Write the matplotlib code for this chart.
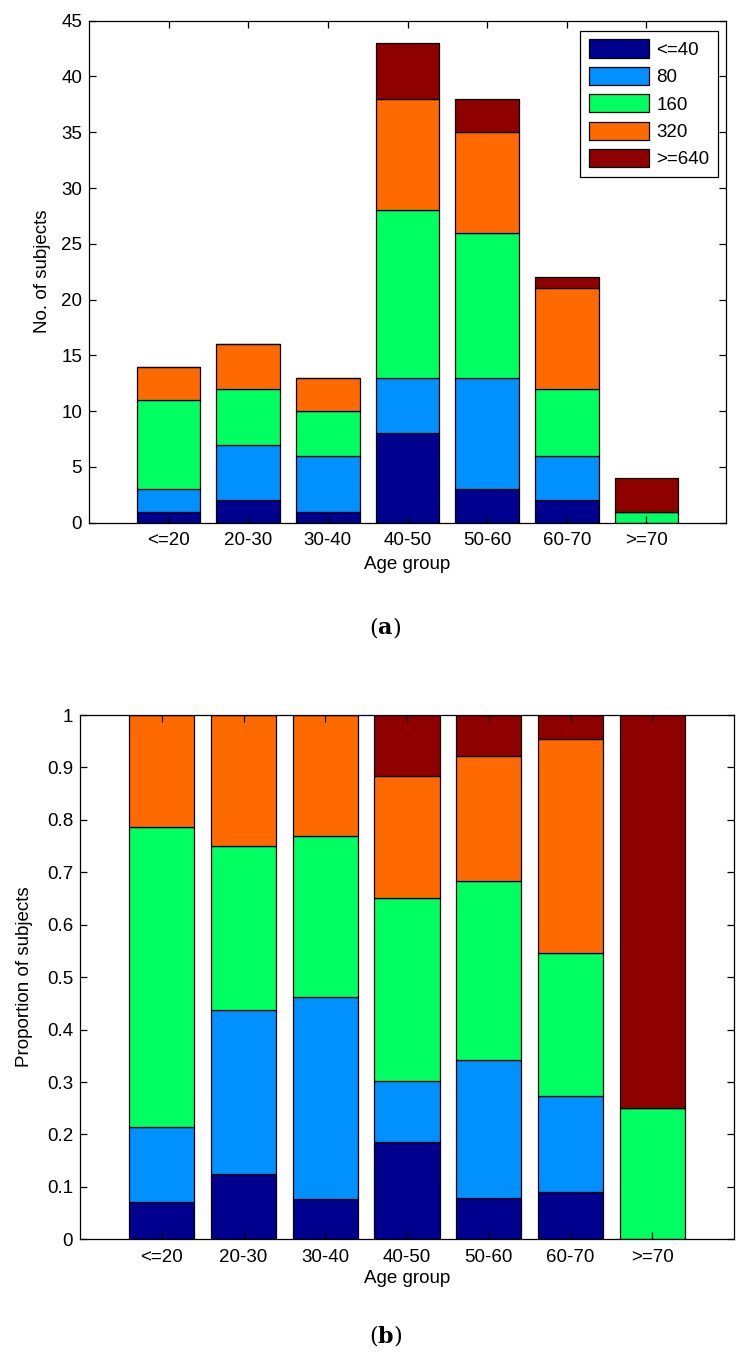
import matplotlib
matplotlib.use("Agg")
import matplotlib.pyplot as plt
import numpy as np

age_groups = ["<=20", "20-30", "30-40", "40-50", "50-60", "60-70", ">=70"]
titre_labels = ["<=40", "80", "160", "320", ">=640"]
titre_le40 = [1, 2, 1, 8, 3, 2, 0]
titre_80 = [2, 5, 5, 5, 10, 4, 0]
titre_160 = [8, 5, 4, 15, 13, 6, 1]
titre_320 = [3, 4, 3, 10, 9, 9, 0]
titre_ge640 = [0, 0, 0, 5, 3, 1, 3]
colors = ["#00008F", "#0090FF", "#00FF60", "#FF6A00", "#8F0000"]

series = [titre_le40, titre_80, titre_160, titre_320, titre_ge640]
counts = np.array(series, dtype=float)
totals = counts.sum(axis=0)
props = counts / totals

plt.rcParams["font.family"] = ["Liberation Sans", "DejaVu Sans"]
fs = 13.5

fig = plt.figure(figsize=(7.55, 13.66), dpi=100)
ax1 = fig.add_axes([89 / 755, 1 - 522.7 / 1366, 637 / 755, 502 / 1366])
ax2 = fig.add_axes([80 / 755, 1 - 1239.3 / 1366, 654 / 755, 524.3 / 1366])

x = np.arange(1, len(age_groups) + 1)


def draw(ax, data):
    bottom = np.zeros(len(age_groups))
    for vals, col, lab in zip(data, colors, titre_labels):
        ax.bar(x, vals, 0.8, bottom=bottom, color=col, edgecolor="black",
               linewidth=0.9, label=lab)
        bottom = bottom + np.asarray(vals)
    ax.set_xlim(0, 8)
    ax.set_xticks(x)
    ax.set_xticklabels(age_groups, fontsize=fs)
    ax.tick_params(direction="in", length=5, width=0.9, top=True, right=True,
                   labelsize=fs, colors="black")
    ax.tick_params(axis="x", pad=7)
    ax.tick_params(axis="y", pad=5)
    for s in ax.spines.values():
        s.set_linewidth(0.9)


draw(ax1, counts)
ax1.set_ylim(0, 45)
ax1.set_yticks(np.arange(0, 46, 5))
ax1.set_xlabel("Age group", fontsize=fs, labelpad=5)
ax1.set_ylabel("No. of subjects", fontsize=fs, labelpad=7)
leg = ax1.legend(loc="upper right", bbox_to_anchor=(0.9874, 0.9795),
                 borderaxespad=0, fontsize=fs, handlelength=3.2,
                 handleheight=1.12, handletextpad=0.4, labelspacing=0.42,
                 borderpad=0.45, fancybox=False, framealpha=1)
leg.get_frame().set_edgecolor("black")
leg.get_frame().set_linewidth(0.9)

draw(ax2, props)
ax2.set_ylim(0, 1)
yt = np.round(np.arange(0, 1.01, 0.1), 1)
ax2.set_yticks(yt)
ax2.set_yticklabels(["0"] + [f"{v:g}" for v in yt[1:-1]] + ["1"])
ax2.set_xlabel("Age group", fontsize=fs, labelpad=3)
ax2.set_ylabel("Proportion of subjects", fontsize=fs, labelpad=10)


def caption(y, letter):
    cfs = 16
    t1 = fig.text(0.5, y, "(", fontsize=cfs, family="DejaVu Serif",
                  ha="right", va="baseline")
    a = plt.annotate(letter, xy=(1, 0), xycoords=t1, va="bottom", ha="left",
                     fontsize=cfs, family="DejaVu Serif", fontweight="bold",
                     annotation_clip=False)
    plt.annotate(")", xy=(1, 0), xycoords=a, va="bottom", ha="left",
                 fontsize=cfs, family="DejaVu Serif", annotation_clip=False)


caption(1 - 634 / 1366, "a")
caption(1 - 1343 / 1366, "b")

fig.savefig("out.png", dpi=100)
